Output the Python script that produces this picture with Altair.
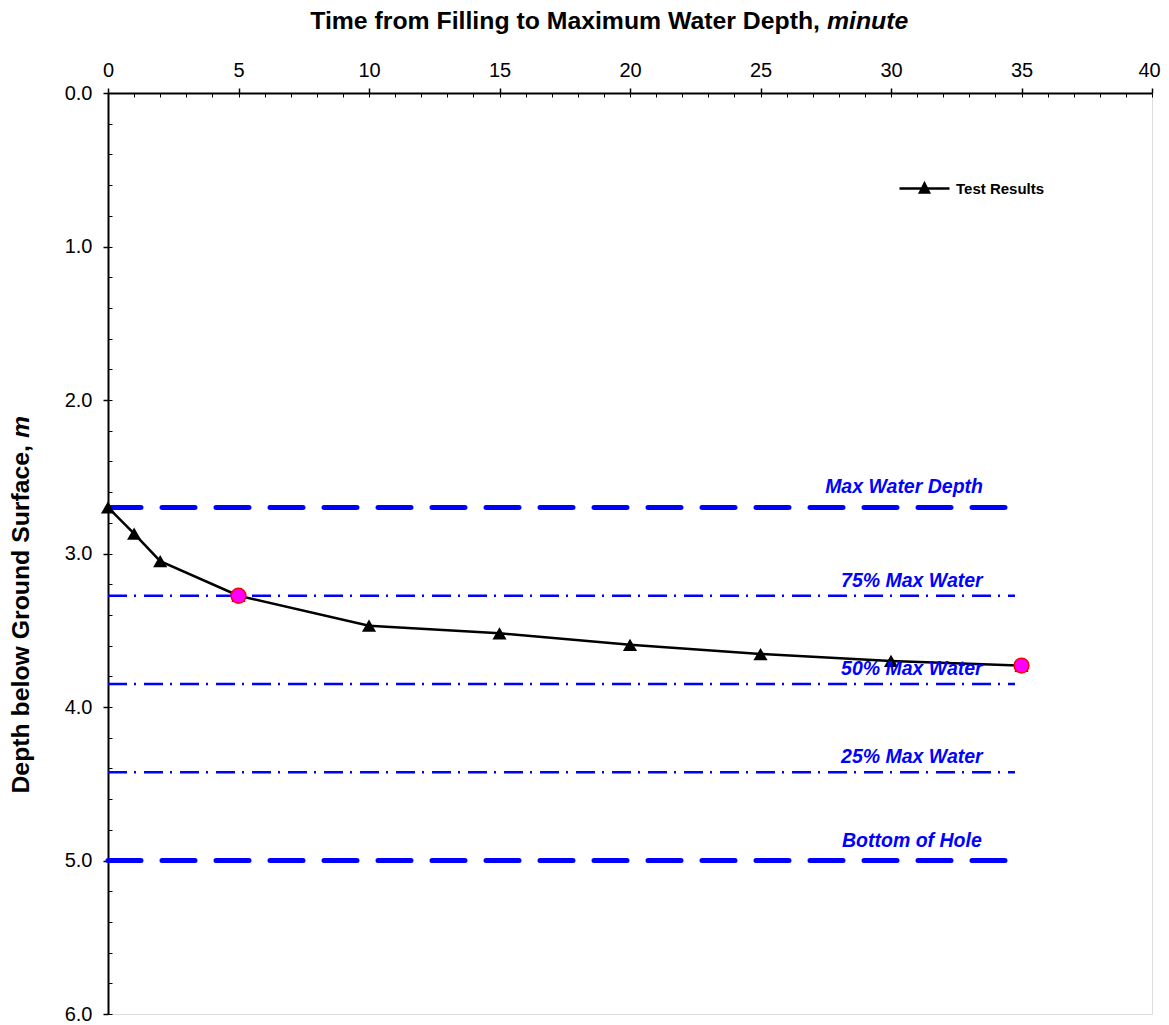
import altair as alt
import pandas as pd

# ---------------- data ----------------
time_min = [0, 1, 2, 5, 10, 15, 20, 25, 30, 35]
depth_m = [2.70, 2.87, 3.05, 3.275, 3.47, 3.52, 3.595, 3.655, 3.70, 3.73]
series_name = "Test Results"

key_time = [5, 35]
key_depth = [3.275, 3.73]

ref_names = ["Max Water Depth", "75% Max Water", "50% Max Water", "25% Max Water", "Bottom of Hole"]
ref_depth = [2.70, 3.275, 3.85, 4.425, 5.00]
ref_heavy = [True, False, False, False, True]
ref_x_start = [0, 0, 0, 0, 0]
ref_x_end = [34.75, 34.75, 34.75, 34.75, 34.75]
label_x = [30.5, 30.8, 30.8, 30.8, 30.8]

x_major = [0, 5, 10, 15, 20, 25, 30, 35, 40]
x_minor = list(range(0, 41))
y_major = [0, 1, 2, 3, 4, 5, 6]
y_minor = [round(i * 0.2, 1) for i in range(31)]

x_title_main = "Time from Filling to Maximum Water Depth,"
x_title_unit = "minute"
y_title_main = "Depth below Ground Surface,"
y_title_unit = "m"

# ---------------- frames ----------------
df = pd.DataFrame({"time": time_min, "depth": depth_m, "series": [series_name] * len(time_min)})
dkey = pd.DataFrame({"time": key_time, "depth": key_depth})
dref = pd.DataFrame({"name": ref_names, "depth": ref_depth, "heavy": ref_heavy,
                     "x0": ref_x_start, "x1": ref_x_end, "lx": label_x})
heavy = dref[dref.heavy]
thin = dref[~dref.heavy]
one = pd.DataFrame({"a": [0]})

W, H = 1044, 921
FONT = "Liberation Sans"
BLUE = "#0000FF"

xs = alt.Scale(domain=[0, 40], nice=False, zero=False)
ys = alt.Scale(domain=[0, 6], nice=False, zero=False, reverse=True)

main_x_axis = alt.Axis(orient="top", values=x_major, tickSize=5, tickColor="black", tickWidth=1.5,
                       domainColor="black", domainWidth=2, labelFont=FONT, labelFontSize=20,
                       labelColor="black", labelPadding=8, title=None, grid=False, labelFlush=False,
                       labelOffset={"condition": {"test": "datum.value == 40", "value": -3}, "value": 0})
main_y_axis = alt.Axis(orient="left", values=y_major, format=".1f", tickSize=5, tickColor="black",
                       tickWidth=1.5, domainColor="black", domainWidth=2, labelFont=FONT,
                       labelFontSize=20, labelColor="black", labelPadding=11, title=None, grid=False)
minor_x_axis = alt.Axis(orient="bottom", offset=-H, values=x_minor, tickSize=4, tickColor="black",
                        tickWidth=1, labels=False, domain=False, title=None, grid=False)
minor_y_axis = alt.Axis(orient="right", offset=-W, values=y_minor, tickSize=4, tickColor="black",
                        tickWidth=1, labels=False, domain=False, title=None, grid=False)

# ---------------- layers ----------------
line = alt.Chart(df).mark_line(color="black", strokeWidth=2.5).encode(
    x=alt.X("time:Q", scale=xs, axis=main_x_axis),
    y=alt.Y("depth:Q", scale=ys, axis=main_y_axis),
)

heavy_rules = alt.Chart(heavy).mark_rule(color=BLUE, strokeWidth=5, strokeDash=[33, 21], strokeCap="round").encode(
    x=alt.X("x0:Q", scale=xs, axis=None), x2="x1:Q",
    y=alt.Y("depth:Q", scale=ys, axis=None),
)
thin_rules = alt.Chart(thin).mark_rule(color=BLUE, strokeWidth=2.5, strokeDash=[19, 7, 2, 8]).encode(
    x=alt.X("x0:Q", scale=xs, axis=minor_x_axis), x2="x1:Q",
    y=alt.Y("depth:Q", scale=ys, axis=minor_y_axis),
)

heavy_labels = alt.Chart(heavy).mark_text(font=FONT, fontSize=19.5, fontWeight="bold", fontStyle="italic",
                                           color=BLUE, baseline="alphabetic", align="center", dy=-14).encode(
    x=alt.X("lx:Q", scale=xs, axis=None), y=alt.Y("depth:Q", scale=ys, axis=None), text="name:N")
thin_labels = alt.Chart(thin).mark_text(font=FONT, fontSize=19.5, fontWeight="bold", fontStyle="italic",
                                         color=BLUE, baseline="alphabetic", align="center", dy=-9).encode(
    x=alt.X("lx:Q", scale=xs, axis=None), y=alt.Y("depth:Q", scale=ys, axis=None), text="name:N")

legend_path = "M-1,0L1,0M-0.18,0.16L0,-0.2L0.18,0.16Z"
tri = alt.Chart(df).mark_point(shape="triangle-up", filled=True, size=200, opacity=1).encode(
    x=alt.X("time:Q", scale=xs, axis=None),
    y=alt.Y("depth:Q", scale=ys, axis=None),
    color=alt.Color("series:N", scale=alt.Scale(range=["black"]),
                    legend=alt.Legend(title=None, orient="none", legendX=790, legendY=69,
                                      symbolType=legend_path, symbolSize=2500,
                                      symbolStrokeColor="black", symbolFillColor="black",
                                      symbolStrokeWidth=2.5, labelFont=FONT, labelFontSize=15,
                                      labelFontWeight="bold", labelColor="black", labelOffset=5)),
)

circles = alt.Chart(dkey).mark_point(shape="circle", filled=True, fill="#FF00FF", stroke="#FF0000",
                                     strokeWidth=1.5, size=220, opacity=1).encode(
    x=alt.X("time:Q", scale=xs, axis=None),
    y=alt.Y("depth:Q", scale=ys, axis=None),
)

xt1 = alt.Chart(one).mark_text(font=FONT, fontSize=24.8, fontWeight="bold", align="right",
                               baseline="alphabetic", color="black").encode(
    x=alt.value(712), y=alt.value(-64), text=alt.value(x_title_main))
xt2 = alt.Chart(one).mark_text(font=FONT, fontSize=24.8, fontWeight="bold", fontStyle="italic", align="left",
                               baseline="alphabetic", color="black").encode(
    x=alt.value(719), y=alt.value(-64), text=alt.value(x_title_unit))
yt1 = alt.Chart(one).mark_text(font=FONT, fontSize=24.8, fontWeight="bold", align="right", angle=270,
                               baseline="alphabetic", color="black").encode(
    x=alt.value(-79), y=alt.value(352), text=alt.value(y_title_main))
yt2 = alt.Chart(one).mark_text(font=FONT, fontSize=24.8, fontWeight="bold", fontStyle="italic", align="left",
                               angle=270, baseline="alphabetic", color="black").encode(
    x=alt.value(-79), y=alt.value(345), text=alt.value(y_title_unit))

chart = alt.layer(
    thin_rules, heavy_rules, line, tri, circles, heavy_labels, thin_labels, xt1, xt2, yt1, yt2
).resolve_axis(x="independent", y="independent").properties(
    width=W, height=H,
    autosize=alt.AutoSizeParams(type="none"),
    padding={"left": 100, "top": 85, "right": 9, "bottom": 10},
).configure_view(stroke="#808080", strokeWidth=2).configure(background="white")

chart.save("out.html", embed_options={"renderer": "svg", "actions": False})
